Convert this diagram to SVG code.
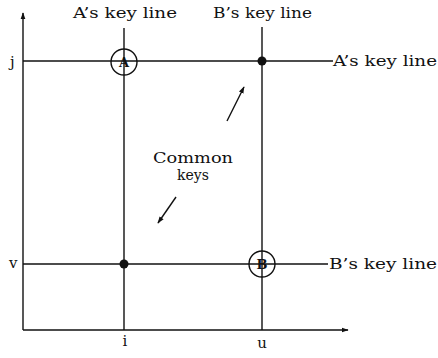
<svg xmlns="http://www.w3.org/2000/svg" width="438" height="358" viewBox="0 0 438 358">
<style>
.ln{stroke:#111;stroke-width:1.4;fill:none}
.t{font-family:"DejaVu Serif","Liberation Serif",serif;font-size:15px;fill:#111}
.m{font-family:"DejaVu Serif","Liberation Serif",serif;font-size:14px;fill:#111;text-anchor:middle}
.c{font-family:"DejaVu Serif","Liberation Serif",serif;font-size:13px;font-weight:bold;fill:#111;text-anchor:middle}
</style>
<defs>
<marker id="ah" viewBox="0 0 10 10" refX="9" refY="5" markerWidth="7" markerHeight="7" orient="auto" markerUnits="userSpaceOnUse">
<path d="M0,1.5 L10,5 L0,8.5 z" fill="#111"/>
</marker>
</defs>
<rect width="438" height="358" fill="#fff"/>
<g id="connectors">
<line class="ln" x1="23" y1="330" x2="23" y2="13" marker-end="url(#ah)"/>
<line class="ln" x1="23" y1="330" x2="348" y2="330" marker-end="url(#ah)"/>
<line class="ln" x1="124" y1="28" x2="124" y2="330"/>
<line class="ln" x1="262" y1="27" x2="262" y2="330"/>
<line class="ln" x1="23" y1="61" x2="333" y2="61"/>
<line class="ln" x1="23" y1="264" x2="328" y2="264"/>
<line class="ln" x1="227" y1="121" x2="244" y2="87" marker-end="url(#ah)"/>
<line class="ln" x1="176" y1="197" x2="158" y2="223" marker-end="url(#ah)"/>
</g>
<g id="nodeA">
<circle cx="124" cy="62" r="13" class="ln" fill="none"/>
<text class="c" x="124" y="67">A</text>
</g>
<g id="nodeB">
<circle cx="262" cy="264" r="13" class="ln" fill="none"/>
<text class="c" x="262" y="269">B</text>
</g>
<g id="dot1"><circle cx="262" cy="61" r="4.5" fill="#111"/></g>
<g id="dot2"><circle cx="124" cy="264" r="4.5" fill="#111"/></g>
<g id="labels">
<text class="t" x="73" y="18" textLength="104" lengthAdjust="spacingAndGlyphs">A’s key line</text>
<text class="t" x="213" y="18" textLength="99" lengthAdjust="spacingAndGlyphs">B’s key line</text>
<text class="t" x="333" y="66" textLength="104" lengthAdjust="spacingAndGlyphs">A’s key line</text>
<text class="t" x="329" y="269" textLength="108" lengthAdjust="spacingAndGlyphs">B’s key line</text>
<text class="t" x="10" y="67">j</text>
<text class="t" x="9" y="268">v</text>
<text class="t" x="125" y="346" text-anchor="middle">i</text>
<text class="t" x="262" y="348" text-anchor="middle">u</text>
<text class="m" x="193" y="163" textLength="80" lengthAdjust="spacingAndGlyphs">Common</text>
<text class="m" x="193" y="180">keys</text>
</g>
</svg>
